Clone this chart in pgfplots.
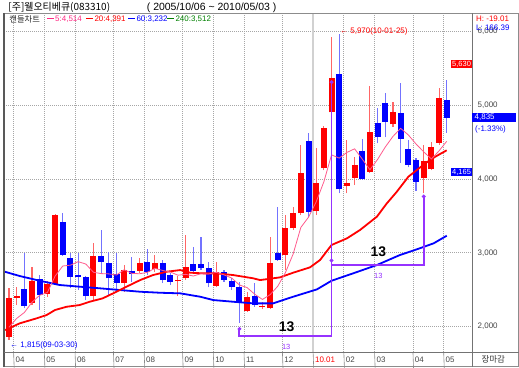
\documentclass[border=0pt]{standalone}
\usepackage{fontspec}
\setmainfont{Liberation Sans}
\newfontfamily\kr{Noto Sans CJK KR}
\usepackage{pgfplots}
\pgfplotsset{compat=1.18}
\usepackage{pgfplotstable}
\usetikzlibrary{arrows.meta}

\definecolor{cRed}{RGB}{255,0,0}
\definecolor{cBlue}{RGB}{0,0,255}
\definecolor{cPink}{RGB}{255,90,140}
\definecolor{cPinkT}{RGB}{255,40,130}
\definecolor{cPurp}{RGB}{150,50,255}
\definecolor{cGreen}{RGB}{0,128,0}
\definecolor{cLab}{RGB}{70,70,70}

\pgfplotstableread{
i o h l c
0 1861 2522 1815 2382
1 2390 2540 2290 2410
3 2314 2811 2290 2621
5 2440 2620 2400 2576
6 2572 3520 2560 3513
11 2413 3129 2359 2956
15 2594 2834 2472 2766
17 2757 2925 2730 2857
19 2775 2970 2740 2865
22 2620 2690 2420 2635
23 2653 3241 2630 2802
27 2549 2879 2532 2743
31 2210 2472 2200 2404
33 2265 2330 2235 2275
34 2247 3210 2240 2865
36 2970 3513 2766 3332
37 3332 3620 3310 3544
38 3536 4463 3513 4078
40 3571 4418 3513 3951
41 4150 4720 4120 4689
42 4906 5932 4890 5368
44 3909 4530 3807 3943
45 4011 4304 3920 4192
47 4100 5263 4078 4643
50 4743 5050 4711 4914
54 4019 4463 3807 4245
55 4133 4507 4120 4431
56 4494 5232 4463 5096
}\upT

\pgfplotstableread{
i o h l c
2 2504 3001 2246 2278
4 2640 2698 2222 2427
7 3422 3536 2960 2970
8 2933 3001 2518 2675
9 2698 3001 2495 2667
10 2667 2690 2359 2413
12 2956 3309 2722 2879
13 2865 3015 2413 2653
14 2712 2993 2472 2594
16 2757 2947 2607 2712
18 2879 3047 2698 2743
20 2865 2900 2590 2630
21 2698 2720 2560 2607
24 2843 3083 2725 2752
25 2843 3210 2770 2790
26 2798 2879 2532 2586
28 2743 2770 2610 2630
29 2621 2660 2500 2540
30 2540 2600 2050 2323
32 2413 2586 2268 2291
35 3001 3617 2890 2902
39 4517 4621 3490 3557
43 5422 5970 3807 3861
46 4381 4540 3990 3997
48 4757 4969 4486 4567
49 5028 5172 4567 4779
51 4893 5300 4222 4544
52 4408 4530 4160 4191
53 4259 4290 3838 3956
57 5073 5345 4630 4835
}\downT

\pgfplotstableread{
i v
0 1990
1 2110
2 2190
3 2330
4 2424
5 2462
6 2683
7 2821
8 2832
9 2880
10 2848
11 2736
12 2718
13 2714
14 2699
15 2770
16 2721
17 2716
18 2734
19 2789
20 2761
21 2740
22 2696
23 2708
24 2685
25 2717
26 2713
27 2735
28 2700
29 2658
30 2564
31 2528
32 2438
33 2367
34 2432
35 2547
36 2733
37 2984
38 3344
39 3483
40 3692
41 3964
42 4329
43 4285
44 4362
45 4411
46 4272
47 4127
48 4268
49 4436
50 4580
51 4689
52 4599
53 4477
54 4370
55 4273
56 4384
57 4513
}\maFive

\pgfplotstableread{
i v
-0.5 1952
1.4 2043
3.6 2111
4.9 2156
6 2224
7.5 2268
9.2 2291
10.5 2336
12.2 2382
14 2472
15.3 2540
17.1 2631
18.75 2698
20.5 2743
22.3 2766
23.6 2730
25.3 2721
27 2721
29.2 2698
31.8 2654
32.7 2630
35.3 2667
37 2730
39.2 2803
40.5 2902
42 3106
44 3196
45.7 3309
47.9 3490
49.2 3671
50.5 3829
52 4032
54.2 4214
55.5 4304
57 4391
}\maTwenty

\pgfplotstableread{
i v
-0.6 2745
1.4 2685
4 2621
6.6 2563
9.25 2540
11.85 2518
14.45 2495
17.06 2472
19.7 2458
22.3 2450
24.9 2404
26.6 2359
29.2 2336
31.8 2314
34.4 2314
37 2404
40.1 2504
42 2621
44.8 2721
47.9 2834
50.9 2970
53.1 3047
55.3 3129
57 3232
}\maSixty

\begin{document}
\begin{tikzpicture}[x=1bp,y=1bp]
\begin{axis}[
  at={(0,0)}, anchor=south west, scale only axis,
  width=468bp, height=339bp,
  xmin=-0.65, xmax=60.29, ymin=1654, ymax=6254,
  axis line style={draw=none},
  xtick={0.6,4.6,8.6,13.6,17.6,22.6,26.6,30.6,35.6,39.6,43.6,47.6,52.6,56.6},
  xticklabels={04,05,06,07,08,09,10,11,12,{\textcolor{red}{10.01}},02,03,04,05},
  xticklabel style={anchor=west, xshift=-1.5bp, yshift=-7.5bp, font=\fontsize{8}{9}\selectfont, text=cLab},
  ytick={2000,3000,4000,5000,6000},
  yticklabel=\empty,
  major tick length=0pt,
  grid=major,
  major grid style={draw=black!35, line width=0.7bp, dash pattern=on 1bp off 1bp},
  clip=false,
  /pgf/number format/assume math mode=true,
]
% year boundary line
\draw[black!18, line width=1.8bp] (axis cs:39.6,1654) -- (axis cs:39.6,6254);
% bottom row separators
\pgfplotsinvokeforeach{0.6,4.6,8.6,13.6,17.6,22.6,26.6,30.6,35.6,39.6,43.6,47.6,52.6,56.6}{
  \draw[black!45, line width=0.6bp] (axis cs:#1,1654) -- ++(0,-15bp);
}
% wicks
\addplot[draw=none, mark=none, forget plot, error bars/.cd, y dir=plus, y explicit, error mark=none,
  error bar style={draw=red!60, line width=1.1bp, solid}]
  table[x=i, y=l, y error plus expr=\thisrow{h}-\thisrow{l}] {\upT};
\addplot[draw=none, mark=none, forget plot, error bars/.cd, y dir=plus, y explicit, error mark=none,
  error bar style={draw=blue!55, line width=1.1bp, solid}]
  table[x=i, y=l, y error plus expr=\thisrow{h}-\thisrow{l}] {\downT};
% bodies
\addplot[draw=none, mark=none, forget plot, error bars/.cd, y dir=plus, y explicit, error mark=none,
  error bar style={draw=cRed, line width=6bp, solid}]
  table[x=i, y=o, y error plus expr=\thisrow{c}-\thisrow{o}] {\upT};
\addplot[draw=none, mark=none, forget plot, error bars/.cd, y dir=plus, y explicit, error mark=none,
  error bar style={draw=cBlue, line width=6bp, solid}]
  table[x=i, y=c, y error plus expr=\thisrow{o}-\thisrow{c}] {\downT};
% moving averages
\addplot[cBlue, line width=1.8bp, mark=none] table[x=i, y=v] {\maSixty};
\addplot[cRed, line width=1.8bp, mark=none] table[x=i, y=v] {\maTwenty};
\addplot[cPink, line width=0.8bp, mark=none] table[x=i, y=v] {\maFive};
% period annotations
\draw[draw=cPurp, line width=1.8bp, {Circle[length=3.5bp]}-{Circle[length=3.5bp]}]
  (axis cs:30,1990) -- (axis cs:30,1875) -- (axis cs:42,1875) -- (axis cs:42,5340);
\draw[draw=cPurp, line width=1.8bp, {Circle[length=3.5bp]}-{Circle[length=3.5bp]}]
  (axis cs:42,2920) -- (axis cs:42,2838) -- (axis cs:54,2838) -- (axis cs:54,3788);
\node[font=\bfseries\fontsize{14}{14}\selectfont] at (axis cs:36.16,1997) {13};
\node[text=cPurp, font=\fontsize{7.5}{8}\selectfont] at (axis cs:36.1,1725) {13};
\node[font=\bfseries\fontsize{14}{14}\selectfont] at (axis cs:48.1,3015) {13};
\node[text=cPurp, font=\fontsize{7.5}{8}\selectfont] at (axis cs:48.1,2680) {13};
% high / low annotations
\node[anchor=west, inner sep=0, text=red, font=\fontsize{8}{9}\selectfont] at (axis cs:43.1,6010) {← 5,970(10-01-25)};
\node[anchor=west, inner sep=0, text=blue, font=\fontsize{8}{9}\selectfont] at (axis cs:0.13,1744) {← 1,815(09-03-30)};
% right axis labels
\node[anchor=west, inner sep=0, text=cLab, font=\fontsize{8}{9}\selectfont] at (axis cs:60.29,6000) [xshift=5.5bp] {6,000};
\node[anchor=west, inner sep=0, text=cLab, font=\fontsize{8}{9}\selectfont] at (axis cs:60.29,5000) [xshift=5.5bp] {5,000};
\node[anchor=west, inner sep=0, text=cLab, font=\fontsize{8}{9}\selectfont] at (axis cs:60.29,4000) [xshift=5.5bp] {4,000};
\node[anchor=west, inner sep=0, text=cLab, font=\fontsize{8}{9}\selectfont] at (axis cs:60.29,3000) [xshift=5.5bp] {3,000};
\node[anchor=west, inner sep=0, text=cLab, font=\fontsize{8}{9}\selectfont] at (axis cs:60.29,2000) [xshift=5.5bp] {2,000};
\end{axis}

% frame
\draw[black!45, line width=0.8bp] (0,339) -- (514.5,339) -- (514.5,-14.6) -- (0,-14.6);
\draw[black!65, line width=1.6bp] (-0.2,-15) -- (-0.2,339.4);
\draw[black!55, line width=0.9bp] (468,-15) -- (468,339);
\draw[black!55, line width=0.9bp] (0,0) -- (515,0);

% title
\node[anchor=west, inner sep=0, font=\kr\fontsize{10}{11}\selectfont] at (4.3,344.5) {[주]웰오티베큐(083310)};
\node[anchor=west, inner sep=0, font=\fontsize{10.5}{11}\selectfont] at (142.7,344.5) {( 2005/10/06 \textasciitilde{} 2010/05/03 )};

% legend row
\node[anchor=west, inner sep=0, font=\kr\fontsize{8.3}{9}\selectfont, text=black!85] at (5.3,332.5) {캔들차트};
\node[anchor=west, inner sep=0, font=\fontsize{8}{9}\selectfont, text=cPinkT] at (42.7,332.5) {\rule[2.3bp]{7bp}{1.3bp}\,5:4,514};
\node[anchor=west, inner sep=0, font=\fontsize{8}{9}\selectfont, text=cRed] at (82,332.5) {\rule[2.3bp]{7bp}{1.3bp}\,20:4,391};
\node[anchor=west, inner sep=0, font=\fontsize{8}{9}\selectfont, text=cBlue] at (124,332.5) {\rule[2.3bp]{7bp}{1.3bp}\,60:3,232};
\node[anchor=west, inner sep=0, font=\fontsize{8}{9}\selectfont, text=cGreen] at (163,332.5) {\rule[2.3bp]{7bp}{1.3bp}\,240:3,512};

% right panel texts
\node[anchor=west, inner sep=0, font=\fontsize{8}{9}\selectfont, text=red] at (472,333.7) {H: -19.01};
\node[anchor=west, inner sep=0, font=\fontsize{8}{9}\selectfont, text=blue] at (472,324.3) {L: 166.39};
\fill[cBlue] (468,230.3) rectangle (512,238.9);
\node[anchor=west, inner sep=0, font=\fontsize{8}{9}\selectfont, text=white] at (470.5,234.6) {4,835};
\node[anchor=west, inner sep=0, font=\fontsize{8}{9}\selectfont, text=blue] at (471,223) {(-1.33\%)};
\node[anchor=east, inner sep=0.9bp, fill=cRed, text=white, font=\fontsize{7.5}{8}\selectfont] at (468,288) {5,630};
\node[anchor=east, inner sep=0.9bp, fill=cBlue, text=white, font=\fontsize{7.5}{8}\selectfont] at (468,180) {4,165};
\node[inner sep=0, font=\kr\fontsize{8.5}{9}\selectfont, text=black!80] at (489.3,-7.5) {장마감};

\pgfresetboundingbox
\useasboundingbox (-4,-15) rectangle (515,352);
\end{tikzpicture}
\end{document}
